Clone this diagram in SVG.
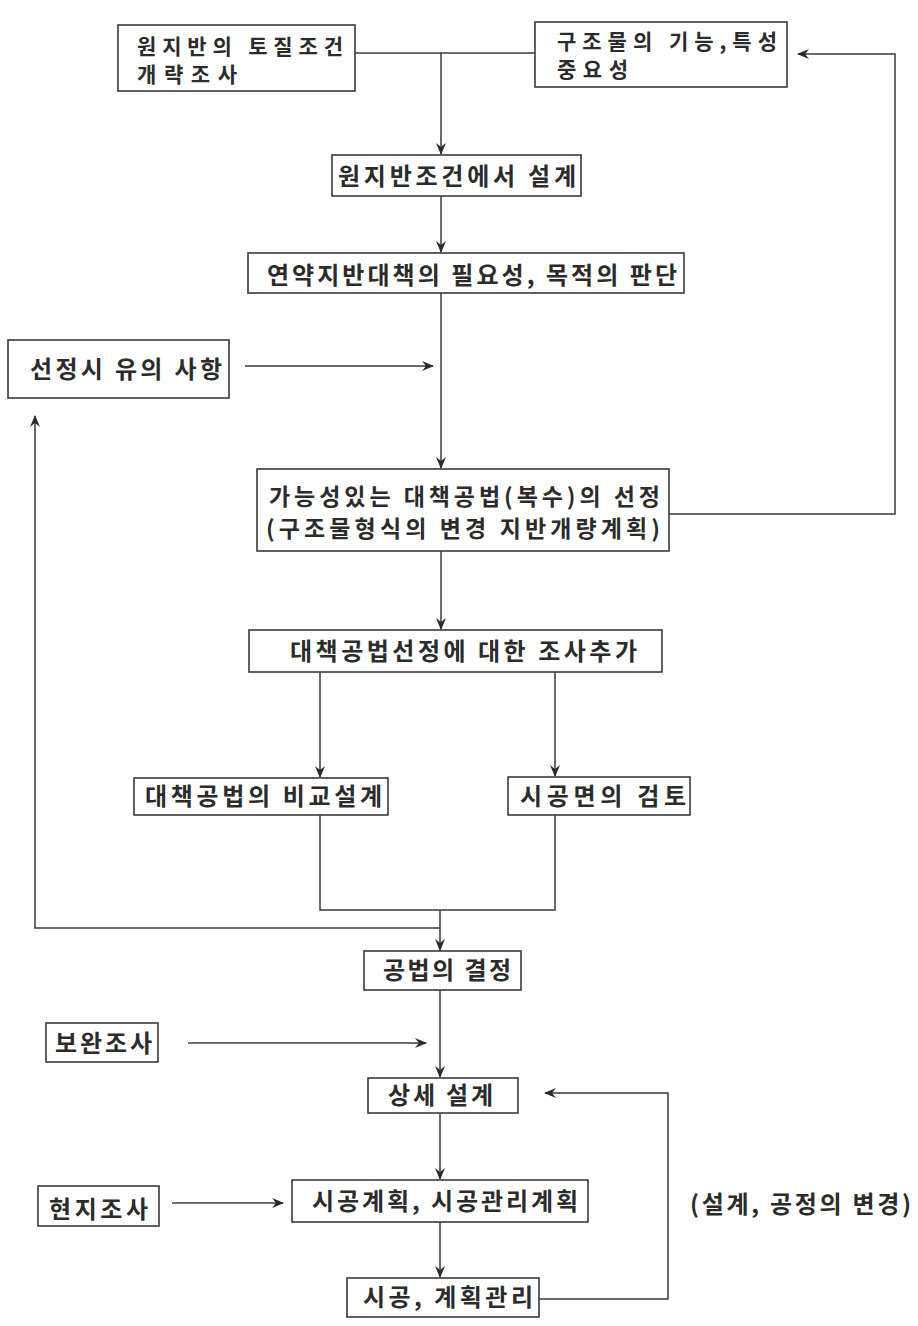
<svg xmlns="http://www.w3.org/2000/svg" width="918" height="1326" viewBox="0 0 918 1326">
<style>
.box{fill:#fff;stroke:#3a3a3a;stroke-width:1.6}
.t{font-family:"Noto Sans CJK KR","Noto Sans",sans-serif;font-size:24px;font-weight:bold;fill:#2b2b2b}
.s{font-size:21px}
.m{font-size:23px}
.c{fill:none;stroke:#3a3a3a;stroke-width:1.5}
</style>
<defs>
<marker id="ah" viewBox="0 0 12 10" refX="11" refY="5" markerWidth="12" markerHeight="10" markerUnits="userSpaceOnUse" orient="auto">
<path d="M0,0 L12,5 L0,10 L4,5 z" fill="#2b2b2b"/>
</marker>
</defs>
<rect width="918" height="1326" fill="#fff"/>
<g id="connectors">
<path class="c" d="M355,53 H535"/>
<path class="c" d="M441,53 V154" marker-end="url(#ah)"/>
<path class="c" d="M441,196 V252" marker-end="url(#ah)"/>
<path class="c" d="M441,293 V468" marker-end="url(#ah)"/>
<path class="c" d="M245,366 H433" marker-end="url(#ah)"/>
<path class="c" d="M669,514 H895 V54 H798" marker-end="url(#ah)"/>
<path class="c" d="M441,551 V629" marker-end="url(#ah)"/>
<path class="c" d="M320,672 V777" marker-end="url(#ah)"/>
<path class="c" d="M555,672 V776" marker-end="url(#ah)"/>
<path class="c" d="M320,815 V910 H555 V815"/>
<path class="c" d="M440,910 V950" marker-end="url(#ah)"/>
<path class="c" d="M440,928 H35 V416" marker-end="url(#ah)"/>
<path class="c" d="M440,990 V1077" marker-end="url(#ah)"/>
<path class="c" d="M188,1043 H426" marker-end="url(#ah)"/>
<path class="c" d="M440,1113 V1179" marker-end="url(#ah)"/>
<path class="c" d="M172,1203 H283" marker-end="url(#ah)"/>
<path class="c" d="M440,1222 V1277" marker-end="url(#ah)"/>
<path class="c" d="M539,1299 H668 V1093 H545" marker-end="url(#ah)"/>
</g>
<g id="n1"><rect class="box" x="118" y="25" width="237" height="66"/>
<text class="t s" x="137" y="54" textLength="206" lengthAdjust="spacing">원지반의 토질조건</text>
<text class="t s" x="137" y="82" textLength="100" lengthAdjust="spacing">개략조사</text></g>
<g id="n2"><rect class="box" x="535" y="22" width="252" height="65"/>
<text class="t s" x="557" y="49" textLength="220" lengthAdjust="spacing">구조물의 기능,특성</text>
<text class="t s" x="557" y="77" textLength="71" lengthAdjust="spacing">중요성</text></g>
<g id="n3"><rect class="box" x="332" y="155" width="249" height="41"/>
<text class="t" x="338" y="185" textLength="238" lengthAdjust="spacing">원지반조건에서 설계</text></g>
<g id="n4"><rect class="box" x="248" y="253" width="436" height="40"/>
<text class="t" x="267" y="284" textLength="410" lengthAdjust="spacing">연약지반대책의 필요성, 목적의 판단</text></g>
<g id="n5"><rect class="box" x="8" y="340" width="221" height="58"/>
<text class="t" x="30" y="378" textLength="192" lengthAdjust="spacing">선정시 유의 사항</text></g>
<g id="n6"><rect class="box" x="257" y="469" width="412" height="82"/>
<text class="t m" x="269" y="505" textLength="391" lengthAdjust="spacing">가능성있는 대책공법(복수)의 선정</text>
<text class="t m" x="266" y="537" textLength="394" lengthAdjust="spacing">(구조물형식의 변경 지반개량계획)</text></g>
<g id="n7"><rect class="box" x="249" y="630" width="413" height="42"/>
<text class="t" x="290" y="660" textLength="347" lengthAdjust="spacing">대책공법선정에 대한 조사추가</text></g>
<g id="n8"><rect class="box" x="134" y="778" width="254" height="37"/>
<text class="t" x="145" y="805" textLength="237" lengthAdjust="spacing">대책공법의 비교설계</text></g>
<g id="n9"><rect class="box" x="508" y="777" width="182" height="38"/>
<text class="t" x="520" y="805" textLength="166" lengthAdjust="spacing">시공면의 검토</text></g>
<g id="n10"><rect class="box" x="364" y="951" width="157" height="39"/>
<text class="t" x="383" y="979" textLength="128" lengthAdjust="spacing">공법의 결정</text></g>
<g id="n11"><rect class="box" x="46" y="1023" width="112" height="39"/>
<text class="t" x="55" y="1052" textLength="97" lengthAdjust="spacing">보완조사</text></g>
<g id="n12"><rect class="box" x="368" y="1078" width="150" height="35"/>
<text class="t" x="388" y="1104" textLength="105" lengthAdjust="spacing">상세 설계</text></g>
<g id="n13"><rect class="box" x="38" y="1186" width="121" height="40"/>
<text class="t" x="49" y="1218" textLength="99" lengthAdjust="spacing">현지조사</text></g>
<g id="n14"><rect class="box" x="292" y="1180" width="296" height="42"/>
<text class="t" x="312" y="1210" textLength="266" lengthAdjust="spacing">시공계획, 시공관리계획</text></g>
<g id="n15"><rect class="box" x="347" y="1278" width="192" height="39"/>
<text class="t" x="363" y="1306" textLength="170" lengthAdjust="spacing">시공, 계획관리</text></g>
<g id="label"><text class="t" x="690" y="1213" textLength="221" lengthAdjust="spacing">(설계, 공정의 변경)</text></g>
</svg>
